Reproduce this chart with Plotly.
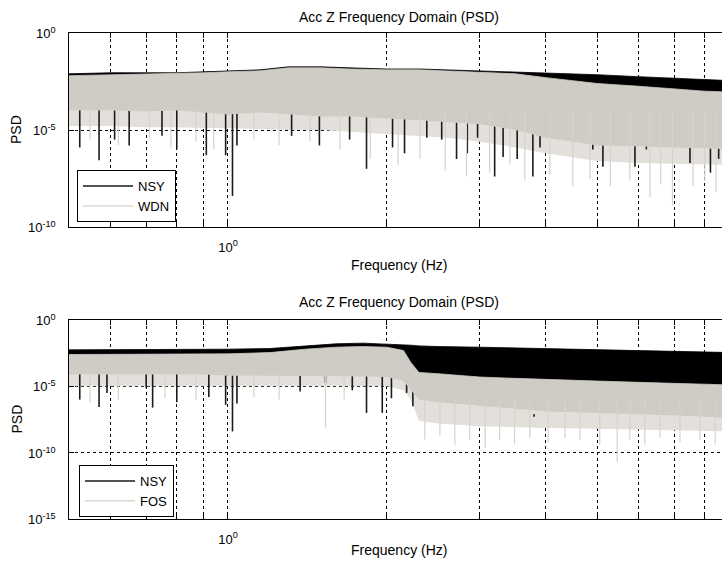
import math
import plotly.graph_objects as go

# ---------------- data ----------------
# Top panel: NSY vs WDN
f_top = [0.5, 0.6, 0.7, 0.8, 0.9, 1.0, 1.15, 1.3, 1.5, 1.7, 2.0, 2.3, 2.6,
         3.0, 3.5, 4.0, 4.5, 5.0, 6.0, 7.0, 8.0, 9.0]
wdn_hi = [6.3e-3, 7.1e-3, 7.9e-3, 7.9e-3, 8.9e-3, 1.0e-2, 1.12e-2, 1.6e-2, 1.6e-2, 1.4e-2,
          1.26e-2, 1.26e-2, 1.12e-2, 1.0e-2, 7.9e-3, 5.0e-3, 3.5e-3, 2.5e-3, 1.8e-3,
          1.26e-3, 1.0e-3, 8.9e-4]
wdn_lo = [1.0e-4, 1.0e-4, 8.9e-5, 1.0e-4, 7.9e-5, 6.3e-5, 7.9e-5, 6.3e-5, 5.0e-5, 5.0e-5,
          4.0e-5, 3.2e-5, 2.5e-5, 2.0e-5, 1.0e-5, 4.0e-6, 2.5e-6, 1.6e-6, 1.4e-6,
          1.26e-6, 1.12e-6, 1.0e-6]
wdn_fringe = [1.6e-5, 1.6e-5, 1.4e-5, 1.4e-5, 1.26e-5, 1.26e-5, 1.12e-5, 1.0e-5, 1.0e-5, 8.0e-6,
              6.3e-6, 5.0e-6, 4.0e-6, 2.5e-6, 1.26e-6, 6.3e-7, 4.0e-7, 2.5e-7, 2.0e-7,
              1.8e-7, 1.6e-7, 1.6e-7]
nsy1_hi = [7.9e-3, 8.9e-3, 8.9e-3, 8.9e-3, 1.0e-2, 1.12e-2, 1.26e-2, 1.8e-2, 1.8e-2, 1.6e-2,
           1.4e-2, 1.4e-2, 1.26e-2, 1.12e-2, 1.0e-2, 8.9e-3, 7.9e-3, 7.1e-3, 5.6e-3,
           4.5e-3, 4.0e-3, 3.5e-3]
nsy1_lo = [3.2e-4, 3.2e-4, 3.2e-4, 3.2e-4, 3.2e-4, 3.2e-4, 3.2e-4, 3.2e-4, 3.2e-4, 3.2e-4,
           3.2e-4, 3.2e-4, 3.2e-4, 3.2e-4, 2.5e-4, 1.0e-4, 5.0e-5, 3.2e-5, 2.5e-5,
           2.0e-5, 2.0e-5, 2.0e-5]

nsy1_spike_f = [0.524, 0.57, 0.61, 0.65, 0.75, 0.80, 0.91, 0.99, 1.02, 1.04, 1.32, 1.49, 1.70,
                1.83, 2.05, 2.16, 2.38, 2.54, 2.71, 2.84, 2.97, 3.20, 3.32, 3.53, 3.78, 3.90,
                4.38, 4.91, 5.13, 5.9, 6.2, 7.5, 8.2, 8.5]
nsy1_spike_lo = [1.26e-6, 2.8e-7, 3.2e-6, 1.6e-6, 5.0e-6, 1.0e-6, 5.0e-7, 5.0e-7, 4.0e-9, 1.6e-6,
                 5.0e-6, 1.6e-6, 3.2e-6, 1.0e-7, 1.26e-6, 6.3e-7, 4.0e-6, 3.2e-6, 3.2e-7,
                 6.3e-7, 4.0e-6, 4.0e-8, 4.0e-7, 3.2e-7, 4.0e-8, 1.26e-6, 3.2e-6, 1.0e-6,
                 1.26e-7, 1.26e-7, 1.0e-6, 2.0e-7, 6.3e-8, 3.2e-7]
nsy1_spike_top = 3.2e-4

wdn_spike_f = [0.548, 0.62, 0.71, 0.78, 0.87, 0.94, 1.12, 1.25, 1.43, 1.63, 1.86, 2.10, 2.31,
               2.58, 2.83, 3.13, 3.42, 3.65, 4.07, 4.5, 4.85, 5.3, 5.77, 6.3, 6.6, 6.95,
               7.6, 8.0, 8.4]
wdn_spike_lo = [3.2e-6, 1.6e-6, 3.2e-6, 1.26e-6, 2.5e-6, 1.0e-6, 3.2e-6, 1.6e-6, 2.5e-6, 1.0e-6,
                3.2e-7, 1.6e-7, 3.2e-7, 8.0e-8, 4.0e-8, 6.3e-8, 1.6e-7, 2.5e-8, 5.0e-8,
                1.26e-8, 3.2e-8, 1.26e-8, 2.5e-8, 3.5e-9, 1.6e-8, 1.26e-9, 1.26e-8,
                2.5e-8, 6.3e-9]
wdn_spike_top = 1.0e-4

# Bottom panel: NSY vs FOS
f_bot = [0.5, 0.6, 0.7, 0.8, 0.9, 1.0, 1.2, 1.4, 1.6, 1.8, 2.0, 2.15, 2.22, 2.3,
         2.5, 3.0, 3.5, 4.0, 5.0, 6.0, 7.0, 8.0, 9.0]
fos_hi = [2.5e-3, 2.5e-3, 2.5e-3, 2.5e-3, 2.8e-3, 2.8e-3, 3.5e-3, 6.3e-3, 8.9e-3, 1.0e-2,
          8.9e-3, 5.0e-3, 6.3e-4, 1.12e-4, 8.9e-5, 5.0e-5, 4.0e-5, 3.2e-5, 2.5e-5,
          2.0e-5, 1.6e-5, 1.4e-5, 1.26e-5]
fos_lo = [7.9e-5, 7.9e-5, 7.9e-5, 7.1e-5, 7.9e-5, 6.3e-5, 6.3e-5, 6.3e-5, 6.3e-5, 5.6e-5,
          5.0e-5, 2.5e-5, 5.0e-6, 1.0e-6, 6.3e-7, 3.2e-7, 2.0e-7, 1.26e-7, 1.0e-7,
          7.9e-8, 6.3e-8, 5.0e-8, 4.0e-8]
fos_fringe = [1.0e-5, 1.0e-5, 1.0e-5, 1.0e-5, 1.0e-5, 1.0e-5, 1.0e-5, 1.0e-5, 1.0e-5, 1.0e-5,
              1.0e-5, 5.0e-6, 1.0e-6, 2.5e-8, 1.6e-8, 1.0e-8, 8.0e-9, 7.1e-9, 6.3e-9,
              5.6e-9, 5.0e-9, 4.5e-9, 4.0e-9]
nsy2_hi = [5.6e-3, 5.6e-3, 5.6e-3, 5.6e-3, 5.6e-3, 6.3e-3, 7.1e-3, 1.12e-2, 1.6e-2, 1.8e-2,
           1.6e-2, 1.4e-2, 1.26e-2, 1.12e-2, 1.0e-2, 8.9e-3, 7.9e-3, 7.1e-3, 6.3e-3,
           5.0e-3, 4.5e-3, 4.0e-3, 3.5e-3]
nsy2_lo = [3.2e-4, 3.2e-4, 3.2e-4, 3.2e-4, 3.2e-4, 3.2e-4, 3.2e-4, 3.2e-4, 3.2e-4, 3.2e-4,
           3.2e-4, 1.0e-4, 3.2e-5, 3.2e-6, 3.2e-6, 1.0e-6, 1.0e-6, 1.0e-6, 1.0e-6,
           1.0e-6, 1.0e-6, 1.0e-6, 1.0e-6]

nsy2_spike_f = [0.524, 0.57, 0.59, 0.70, 0.72, 0.80, 0.92, 0.99, 1.02, 1.04, 1.37, 1.53,
                1.72, 1.83, 1.96, 2.04, 2.18, 2.24, 3.8]
nsy2_spike_lo = [1.0e-6, 2.8e-7, 3.2e-6, 7.9e-6, 2.5e-7, 6.3e-7, 1.6e-6, 4.0e-7, 4.0e-9,
                 5.0e-7, 4.0e-6, 1.8e-5, 5.0e-6, 1.0e-7, 1.0e-7, 1.26e-6, 3.2e-6, 3.2e-7,
                 5.0e-8]
nsy2_spike_top = [1.0e-3, 1.0e-3, 1.0e-3, 1.0e-3, 1.0e-3, 1.0e-3, 1.0e-3, 1.0e-3, 1.0e-3,
                  1.0e-3, 1.0e-3, 1.0e-3, 1.0e-3, 1.0e-3, 1.0e-3, 1.0e-3, 1.0e-3, 1.0e-5,
                  8.0e-8]

fos_spike_f = [0.548, 0.62, 0.76, 0.87, 1.12, 1.25, 1.53, 1.66, 2.36, 2.52, 2.69, 2.87,
               3.07, 3.27, 3.49, 3.73, 4.04, 4.35, 4.64, 5.06, 5.46, 5.77, 6.16, 6.58,
               7.18, 7.83, 8.37]
fos_spike_lo = [6.3e-7, 1.0e-6, 1.26e-6, 1.0e-6, 1.6e-6, 1.0e-6, 7.9e-9, 1.0e-6, 1.0e-9,
                2.0e-9, 4.0e-10, 1.0e-9, 2.5e-10, 1.0e-9, 4.0e-10, 1.26e-9, 6.3e-10,
                1.26e-9, 1.0e-9, 4.0e-10, 2.0e-11, 1.0e-9, 4.0e-10, 1.26e-9, 6.3e-10,
                1.0e-9, 4.0e-10]
fos_spike_top = [1.0e-4] * 8 + [1.0e-6] * 19

x_tickvals = [0.5, 0.6, 0.7, 0.8, 0.9, 1, 2, 3, 4, 5, 6, 7, 8, 9]
x_ticktext = ["", "", "", "", "", "10<sup>0</sup>", "", "", "", "", "", "", "", ""]
y_top_tickvals = [1e-10, 1e-5, 1]
y_top_ticktext = ["10<sup>-10</sup>", "10<sup>-5</sup>", "10<sup>0</sup>"]
y_bot_tickvals = [1e-15, 1e-10, 1e-5, 1]
y_bot_ticktext = ["10<sup>-15</sup>", "10<sup>-10</sup>", "10<sup>-5</sup>", "10<sup>0</sup>"]

title_text = "Acc Z Frequency Domain (PSD)"
x_label = "Frequency (Hz)"
y_label = "PSD"

# ---------------- styling ----------------
BLACK = "#000000"
GRAY = "#CFCBC5"
GRAY_FRINGE = "#E3E0DB"
GRAY_SPIKE = "#D6D2CC"
FONT = "Liberation Sans, Arial, sans-serif"

W, H = 722, 564
fig = go.Figure()


def spikes(fs, lo, top):
    xs, ys = [], []
    tops = top if isinstance(top, list) else [top] * len(fs)
    for f, l, t in zip(fs, lo, tops):
        xs += [f, f, None]
        ys += [t, l, None]
    return xs, ys


def band(f, lo, hi, color, xa, ya):
    fig.add_trace(go.Scatter(x=f, y=lo, mode="lines", line=dict(width=0, color=color),
                             showlegend=False, hoverinfo="skip", xaxis=xa, yaxis=ya))
    fig.add_trace(go.Scatter(x=f, y=hi, mode="lines", line=dict(width=0.8, color=color),
                             fill="tonexty", fillcolor=color, showlegend=False,
                             hoverinfo="skip", xaxis=xa, yaxis=ya))


def panel(xa, ya, legend, f, nsy_lo, nsy_hi, g_lo, g_hi, g_fringe,
          ns_f, ns_lo, ns_top, gs_f, gs_lo, gs_top, gname):
    band(f, nsy_lo, nsy_hi, BLACK, xa, ya)
    band(f, g_fringe, g_lo, GRAY_FRINGE, xa, ya)
    sx, sy = spikes(ns_f, ns_lo, ns_top)
    fig.add_trace(go.Scatter(x=sx, y=sy, mode="lines", line=dict(width=1.6, color="#1a1a1a"),
                             name="NSY", legend=legend, xaxis=xa, yaxis=ya, hoverinfo="skip"))
    band(f, g_lo, g_hi, GRAY, xa, ya)
    gx, gy = spikes(gs_f, gs_lo, gs_top)
    fig.add_trace(go.Scatter(x=gx, y=gy, mode="lines", line=dict(width=1.2, color=GRAY_SPIKE),
                             name=gname, legend=legend, xaxis=xa, yaxis=ya, hoverinfo="skip"))


panel("x", "y", "legend", f_top, nsy1_lo, nsy1_hi, wdn_lo, wdn_hi, wdn_fringe,
      nsy1_spike_f, nsy1_spike_lo, nsy1_spike_top, wdn_spike_f, wdn_spike_lo, wdn_spike_top, "WDN")
panel("x2", "y2", "legend2", f_bot, nsy2_lo, nsy2_hi, fos_lo, fos_hi, fos_fringe,
      nsy2_spike_f, nsy2_spike_lo, nsy2_spike_top, fos_spike_f, fos_spike_lo, fos_spike_top, "FOS")

# geometry (pixels)
L = 69
top1, bot1 = 33, 227
top2, bot2 = 320, 519
px_per_decade = 528.0
x_lo_log = -0.30103
x_hi_log = x_lo_log + (W - L) / px_per_decade

xcommon = dict(type="log", range=[x_lo_log, x_hi_log], showline=True, linecolor=BLACK,
               linewidth=1, mirror="ticks", ticks="inside", ticklen=5, tickcolor=BLACK,
               tickvals=x_tickvals, ticktext=x_ticktext, showgrid=True, gridcolor=BLACK,
               griddash="dot", gridwidth=1, zeroline=False, automargin=False,
               ticklabelstandoff=8,
               tickfont=dict(family=FONT, size=13, color=BLACK), domain=[L / W, 1.0])
ycommon = dict(type="log", showline=True, linecolor=BLACK, linewidth=1, mirror=False,
               ticks="inside", ticklen=5, tickcolor=BLACK, showgrid=True, gridcolor=BLACK,
               griddash="dot", gridwidth=1, zeroline=False, automargin=False,
               showticklabels=False)

legend_common = dict(xanchor="left", yanchor="top", bgcolor="white", bordercolor=BLACK,
                     borderwidth=1, font=dict(family=FONT, size=13), tracegroupgap=0,
                     itemwidth=50, traceorder="normal")

fig.update_layout(
    width=W, height=H, margin=dict(l=0, r=0, t=0, b=0, pad=0, autoexpand=False),
    paper_bgcolor="white", plot_bgcolor="white",
    font=dict(family=FONT, size=13, color=BLACK),
    xaxis=dict(**xcommon, anchor="y"),
    xaxis2=dict(**xcommon, anchor="y2"),
    yaxis=dict(**ycommon, anchor="x", range=[-10, 0], tickvals=y_top_tickvals,
               domain=[1 - bot1 / H, 1 - top1 / H]),
    yaxis2=dict(**ycommon, anchor="x2", range=[-15, 0], tickvals=y_bot_tickvals,
                domain=[1 - bot2 / H, 1 - top2 / H]),
    legend=dict(x=77 / W, y=1 - 170 / H, **legend_common),
    legend2=dict(x=79 / W, y=1 - 465 / H, **legend_common),
    showlegend=True,
)

cx = 399 / W
ann = []
for ty, xy, py in [(17, 265, (top1 + bot1) / 2), (302, 550, (top2 + bot2) / 2)]:
    ann.append(dict(text=title_text, x=cx, y=1 - ty / H, xref="paper", yref="paper",
                    xanchor="center", yanchor="middle",
                    showarrow=False, font=dict(family=FONT, size=14)))
    ann.append(dict(text=x_label, x=cx, y=1 - xy / H, xref="paper", yref="paper",
                    xanchor="center", yanchor="middle",
                    showarrow=False, font=dict(family=FONT, size=14)))
    ann.append(dict(text=y_label, x=16 / W, y=1 - py / H, xref="paper", yref="paper",
                    xanchor="center", yanchor="middle",
                    showarrow=False, textangle=-90, font=dict(family=FONT, size=14)))

# y tick labels placed against their axis values
for yref, vals, texts in [("y", y_top_tickvals, y_top_ticktext),
                          ("y2", y_bot_tickvals, y_bot_ticktext)]:
    for v, t in zip(vals, texts):
        ann.append(dict(text=t, x=58 / W, y=math.log10(v), xref="paper", yref=yref,
                        xanchor="right", yanchor="middle", showarrow=False,
                        font=dict(family=FONT, size=13)))
fig.update_layout(annotations=ann)

fig.write_html("out.html", config={"displayModeBar": False},
               post_script="document.body.style.margin='0';document.body.style.overflow='hidden';")
